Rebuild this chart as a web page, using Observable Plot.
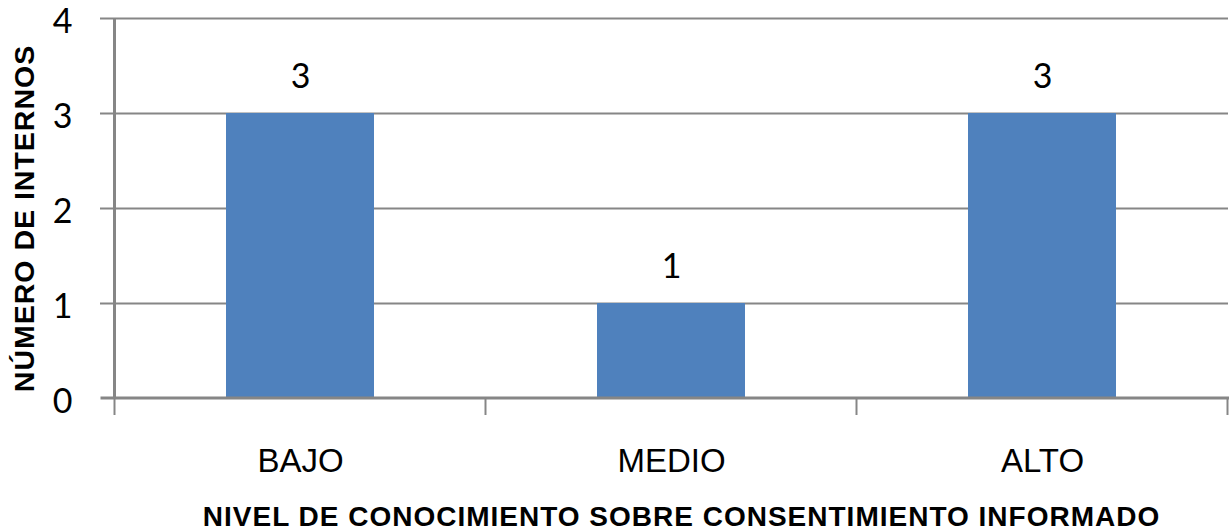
<!DOCTYPE html>
<html>
<head>
<meta charset="utf-8">
<script src="https://cdn.jsdelivr.net/npm/d3@7"></script>
<script src="https://cdn.jsdelivr.net/npm/@observablehq/plot@0.6"></script>
<style>
  html, body { margin: 0; padding: 0; background: #fff; }
  #chart svg { display: block; }
  .title-text text { letter-spacing: 1px; font-family: "Liberation Sans", Arial, sans-serif; }
  .num-text text { font-family: Lato, "Open Sans", sans-serif; }
</style>
</head>
<body>
<div id="chart"></div>
<script>
// Nivel de conocimiento sobre consentimiento informado (número de internos)
const niveles = ["BAJO", "MEDIO", "ALTO"];
const internos = [3, 1, 3];
const yTicks = [0, 1, 2, 3, 4];
const yTitle = "NÚMERO DE INTERNOS";
const xTitle = "NIVEL DE CONOCIMIENTO SOBRE CONSENTIMIENTO INFORMADO";

const data = niveles.map((nivel, i) => ({nivel, valor: internos[i]}));

const gridColor = "#868686";
const barColor = "#4F81BD";

// Axis lines and the category-boundary ticks, computed from the band scale
function categoryAxis(...args) {
  const scales = args.find(a => a && typeof a.x === "function" && typeof a.y === "function");
  const x = scales.x, y = scales.y;
  const step = x.step(), bw = x.bandwidth();
  const half = (step - bw) / 2;
  const edges = niveles.map(c => x(c) - half);
  edges.push(x(niveles[niveles.length - 1]) + bw + half);
  const y0 = y(0), yTop = y(yTicks[yTicks.length - 1]);
  const g = d3.create("svg:g").attr("stroke", gridColor).attr("fill", "none");
  // vertical value axis
  g.append("line").attr("x1", edges[0]).attr("x2", edges[0])
    .attr("y1", yTop).attr("y2", y0).attr("stroke-width", 3);
  // category axis baseline
  g.append("line").attr("x1", edges[0] - 14).attr("x2", edges[edges.length - 1] + 1.5)
    .attr("y1", y0).attr("y2", y0).attr("stroke-width", 3);
  // ticks between categories
  for (const e of edges) {
    g.append("line").attr("x1", e).attr("x2", e)
      .attr("y1", y0).attr("y2", y0 + 17).attr("stroke-width", 2);
  }
  return g.node();
}

const chart = Plot.plot({
  width: 1231,
  height: 531,
  marginLeft: 114,
  marginRight: 3,
  marginTop: 18,
  marginBottom: 133,
  style: {background: "#fff", color: "#000", overflow: "visible"},
  x: {domain: niveles, paddingInner: 0.6, paddingOuter: 0.3, label: null},
  y: {domain: [0, 4], label: null},
  marks: [
    Plot.ruleY(yTicks.filter(t => t > 0), {stroke: gridColor, strokeWidth: 2, insetLeft: -14}),
    Plot.barY(data, {x: "nivel", y: "valor", fill: barColor}),
    categoryAxis,
    Plot.axisY(yTicks, {
      tickSize: 0, tickPadding: 42, tickFormat: d => String(d), dy: 4,
      fontSize: 34, fontFamily: "Lato", label: null, className: "num-text"
    }),
    Plot.axisX({
      tickSize: 0, tickPadding: 50, fontSize: 33, fontFamily: "Liberation Sans", label: null
    }),
    Plot.text(data, {
      x: "nivel", y: "valor", text: d => String(d.valor),
      lineAnchor: "bottom", dy: -26, fontSize: 34, fontFamily: "Lato", fill: "#000",
      className: "num-text"
    }),
    Plot.text([yTitle], {
      frameAnchor: "left", textAnchor: "middle", lineAnchor: "middle",
      rotate: -90, dx: -90, dy: 10, text: d => d,
      fontSize: 28.5, fontWeight: "bold", fontFamily: "Liberation Sans", fill: "#000",
      className: "title-text"
    }),
    Plot.text([xTitle], {
      frameAnchor: "bottom", lineAnchor: "top", dx: 10, dy: 108, text: d => d,
      fontSize: 28, fontWeight: "bold", fontFamily: "Liberation Sans", fill: "#000",
      className: "title-text"
    })
  ]
});

document.getElementById("chart").appendChild(chart);
</script>
</body>
</html>
